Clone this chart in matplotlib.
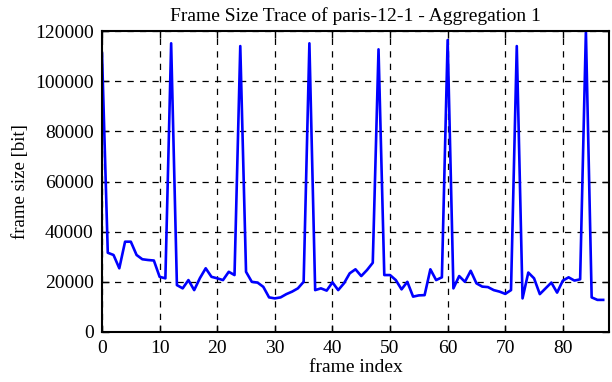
import numpy as np
import matplotlib
matplotlib.use("Agg")
import matplotlib.pyplot as plt

# frame size [bit]
frame_size = [
    111000, 31600, 30700, 25400, 36000, 36000, 30700, 29000, 28700, 28500,
    22000, 21400, 115100, 18700, 17400, 20700, 16700, 21500, 25400, 22000,
    21400, 20700, 24000, 22700, 114000, 24000, 20000, 19700, 18000, 13800,
    13400, 13800, 15100, 16100, 17400, 20000, 115100, 16700, 17400, 16500,
    19800, 16700, 19400, 23400, 25000, 22300, 24700, 27600, 112700, 22700,
    22700, 20700, 17000, 20000, 14100, 14600, 14700, 25000, 20700, 21800,
    116400, 17400, 22300, 20000, 24400, 19400, 18100, 17900, 16700, 16100,
    15200, 16700, 114000, 13400, 23700, 21400, 15100, 17400, 19700, 15700,
    20500, 21800, 20500, 21000, 120000, 13800, 12800, 12800,
]
frame_index = np.arange(len(frame_size))

xticks = [0, 10, 20, 30, 40, 50, 60, 70, 80]
yticks = [0, 20000, 40000, 60000, 80000, 100000, 120000]

plt.rcParams['font.family'] = ['Liberation Serif', 'DejaVu Serif']

fig = plt.figure(figsize=(6.12, 3.82), dpi=100)
ax = fig.add_axes([0.1667, 0.1309, 0.8283, 0.7879])

ax.plot(frame_index, frame_size, color='#0000ff', linewidth=1.9)

ax.set_xlim(0, 88)
ax.set_ylim(0, 120000)
ax.set_xticks(xticks)
ax.set_yticks(yticks)
ax.tick_params(direction='in', top=True, right=True, length=5, width=1,
               labelsize=14, pad=6)
ax.grid(True, color='black', linestyle=(0, (5, 5)), linewidth=0.9)
for s in ax.spines.values():
    s.set_linewidth(1.5)

ax.set_xlabel('frame index', fontsize=14, labelpad=1)
ax.set_ylabel('frame size [bit]', fontsize=13.5, labelpad=4)
ax.set_title('Frame Size Trace of paris-12-1 - Aggregation 1', fontsize=14, pad=7)

fig.savefig('out.png', dpi=100)
